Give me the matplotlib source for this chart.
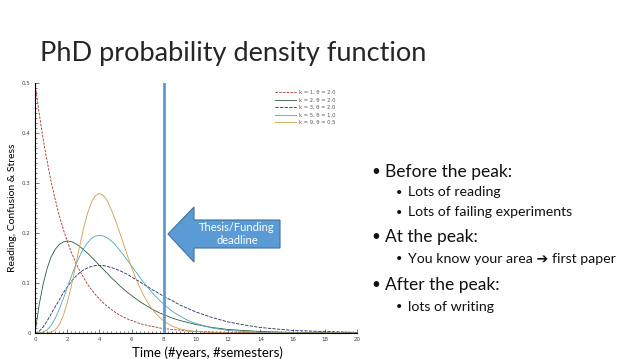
import matplotlib
matplotlib.use('Agg')
import matplotlib.pyplot as plt
from matplotlib.patches import Polygon
from matplotlib.ticker import MultipleLocator

# values
t = [0, 0.25, 0.5, 0.75, 1, 1.25, 1.5, 1.75, 2, 2.25, 2.5, 2.75, 3, 3.25,
     3.5, 3.75, 4, 4.25, 4.5, 4.75, 5, 5.25, 5.5, 5.75, 6, 6.25, 6.5, 6.75,
     7, 7.25, 7.5, 7.75, 8, 8.5, 9, 9.5, 10, 11, 12, 13, 14, 15, 16, 17, 18,
     19, 20]
k1 = [0.5, 0.441, 0.389, 0.344, 0.303, 0.268, 0.236, 0.208, 0.184, 0.162,
      0.143, 0.126, 0.112, 0.098, 0.087, 0.077, 0.068, 0.060, 0.053, 0.047,
      0.041, 0.036, 0.032, 0.028, 0.025, 0.022, 0.019, 0.017, 0.015, 0.013,
      0.012, 0.010, 0.009, 0.007, 0.006, 0.004, 0.003, 0.002, 0.001, 0.001,
      0, 0, 0, 0, 0, 0, 0]
k2 = [0, 0.055, 0.097, 0.129, 0.152, 0.167, 0.177, 0.182, 0.184, 0.183,
      0.179, 0.174, 0.167, 0.160, 0.152, 0.144, 0.135, 0.127, 0.119, 0.110,
      0.103, 0.095, 0.088, 0.081, 0.075, 0.069, 0.063, 0.058, 0.053, 0.048,
      0.044, 0.040, 0.037, 0.030, 0.025, 0.021, 0.017, 0.011, 0.007, 0.005,
      0.003, 0.002, 0.001, 0.001, 0.001, 0, 0]
k3 = [0, 0.003, 0.012, 0.024, 0.038, 0.052, 0.066, 0.080, 0.092, 0.103,
      0.112, 0.120, 0.126, 0.130, 0.133, 0.135, 0.135, 0.135, 0.133, 0.131,
      0.128, 0.125, 0.121, 0.117, 0.112, 0.107, 0.103, 0.097, 0.093, 0.087,
      0.083, 0.078, 0.073, 0.065, 0.056, 0.049, 0.042, 0.031, 0.022, 0.016,
      0.011, 0.008, 0.005, 0.004, 0.003, 0.002, 0.001]
k5 = [0, 0, 0.002, 0.006, 0.015, 0.029, 0.047, 0.068, 0.090, 0.113,
      0.134, 0.152, 0.168, 0.180, 0.189, 0.194, 0.195, 0.194, 0.190, 0.184,
      0.176, 0.166, 0.156, 0.145, 0.134, 0.123, 0.112, 0.101, 0.091, 0.082,
      0.073, 0.065, 0.057, 0.044, 0.034, 0.025, 0.019, 0.010, 0.005, 0.003,
      0.001, 0.001, 0, 0, 0, 0, 0]
k9 = [0, 0, 0, 0, 0.002, 0.006, 0.016, 0.034, 0.060, 0.093,
      0.131, 0.170, 0.207, 0.238, 0.261, 0.275, 0.279, 0.275, 0.264, 0.246,
      0.225, 0.202, 0.178, 0.154, 0.131, 0.110, 0.092, 0.075, 0.061, 0.049,
      0.039, 0.031, 0.024, 0.014, 0.008, 0.005, 0.003, 0.001, 0, 0,
      0, 0, 0, 0, 0, 0, 0]
series = [k1, k2, k3, k5, k9]
labels = ['k = 1, \u03b8 = 2.0', 'k = 2, \u03b8 = 2.0', 'k = 3, \u03b8 = 2.0',
          'k = 5, \u03b8 = 1.0', 'k = 9, \u03b8 = 0.5']
colors = ['#a3302a', '#2f5a3c', '#1f2a6e', '#48a9ba', '#d39b45']
styles = [(0, (3, 1.5)), '-', (0, (4, 1.5)), '-', '-']
deadline = 8

bullets = [
    (0, 'Before the peak:'),
    (1, 'Lots of reading'),
    (1, 'Lots of failing experiments'),
    (0, 'At the peak:'),
    (1, 'You know your area \u2794 first paper'),
    (0, 'After the peak:'),
    (1, 'lots of writing'),
]
bullet_y = [172, 192, 212, 237, 259, 285, 307]

W, H = 638, 359
fig = plt.figure(figsize=(W / 100, H / 100), dpi=100)
fam = ['Lato', 'DejaVu Sans']


def fx(px):
    return px / W


def fy(py):
    return 1 - py / H


fig.text(fx(40), fy(61), 'PhD probability density function', fontsize=19.5,
         family=fam, color='#262626', va='baseline')

ax = fig.add_axes([fx(35), fy(333), fx(357) - fx(35), fy(83) - fy(333)])
for vals, lab, c, ls in zip(series, labels, colors, styles):
    ax.plot(t, vals, color=c, lw=0.6, ls=ls, label=lab)
ax.axvline(deadline, ymin=0, ymax=1, color='#5b9bd5', lw=2.0, zorder=5)

ax.set_xlim(0, 20)
ax.set_ylim(0, 0.5)
ax.set_xticks(range(0, 21, 2))
ax.set_yticks([0, 0.1, 0.2, 0.3, 0.4, 0.5])
ax.set_yticklabels(['0', '0.1', '0.2', '0.3', '0.4', '0.5'])
ax.xaxis.set_minor_locator(MultipleLocator(0.25))
ax.yaxis.set_minor_locator(MultipleLocator(0.01))
ax.tick_params(which='both', direction='in', labelsize=4, colors='#444444',
               width=0.5, pad=3)
ax.tick_params(which='major', length=3)
ax.tick_params(which='minor', length=1.5)
for s in ['top', 'right']:
    ax.spines[s].set_visible(False)
for s in ['left', 'bottom']:
    ax.spines[s].set_linewidth(0.8)
ax.set_facecolor('none')

ax.set_xlabel('Time (#years, #semesters)', fontsize=9.5, family=fam)
ax.xaxis.set_label_coords(0.535, -0.055)
ax.set_ylabel('Reading, Confusion & Stress', fontsize=7.5, family=fam,
              labelpad=4)

leg = ax.legend(loc='upper left', bbox_to_anchor=(0.73, 0.99), fontsize=3.8,
                frameon=False, handlelength=4, labelspacing=0.45,
                handletextpad=0.6)
for txt in leg.get_texts():
    txt.set_color('#555555')

# arrow callout
arrow = [(168, 234), (194, 207), (194, 220), (280, 220), (280, 248),
         (194, 248), (194, 262)]
fig.add_artist(Polygon([(fx(x), fy(y)) for x, y in arrow], closed=True,
                       transform=fig.transFigure, facecolor='#5b9bd5',
                       edgecolor='#41719c', lw=0.8))
fig.text(fx(237), fy(234), 'Thesis/Funding\ndeadline', color='white',
         fontsize=8, family=fam, ha='center', va='center', linespacing=1.3)

for (lvl, txt), y in zip(bullets, bullet_y):
    if lvl == 0:
        fig.text(fx(371), fy(y), '\u2022', fontsize=11, family=fam,
                 va='center', color='#111111')
        fig.text(fx(385), fy(y), txt, fontsize=12.5, family=fam,
                 va='center', color='#111111')
    else:
        fig.text(fx(396), fy(y), '\u2022', fontsize=8, family=fam,
                 va='center', color='#111111')
        fig.text(fx(408), fy(y), txt, fontsize=10.2, family=fam,
                 va='center', color='#111111')

fig.savefig('out.png', dpi=100)
